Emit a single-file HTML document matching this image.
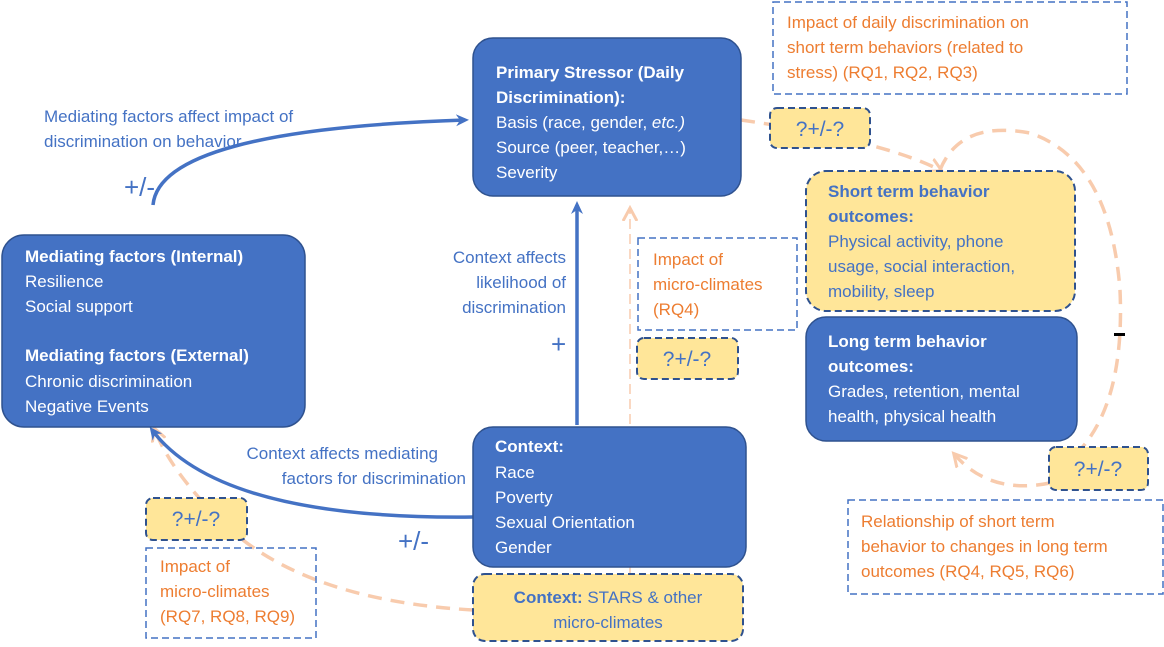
<!DOCTYPE html>
<html><head><style>body{margin:0;background:#fff}svg{display:block}text{font-family:"Liberation Sans",sans-serif;font-size:17px}.b{font-size:26px}.q{font-size:21px}</style></head><body>
<svg width="1164" height="647" viewBox="0 0 1164 647">
<defs>
<marker id="ab" markerWidth="14" markerHeight="14" refX="9" refY="7" orient="auto" markerUnits="userSpaceOnUse"><path d="M0,1 L13,7 L0,13 L4,7Z" fill="#4472C4"/></marker>
<marker id="ao" markerWidth="16" markerHeight="16" refX="11" refY="8" orient="auto" markerUnits="userSpaceOnUse"><path d="M0,1 L13,8 L0,15" fill="none" stroke="#F8CBAD" stroke-width="3"/></marker>
</defs>
<g fill="none" stroke="#F8CBAD" stroke-width="3.5" stroke-dasharray="14,9">
<path d="M630,574 L630,210" stroke-width="1.5" stroke-dasharray="10,5" marker-end="url(#ao)"/>
<path d="M741,120 Q880,140 940,170" marker-end="url(#ao)"/>
<path d="M940,170 Q960,120 1030,133 Q1110,160 1120,290 Q1125,400 1080,450"/>
<path d="M1050,483 Q990,495 955,455" marker-end="url(#ao)"/>
<path d="M473,610 Q300,600 220,520 Q170,470 155,430" marker-end="url(#ao)"/>
</g>
<g fill="none" stroke="#4472C4" stroke-width="3.5">
<path d="M577,425 L577,205" marker-end="url(#ab)"/>
<path d="M153,205 Q160,130 465,120" marker-end="url(#ab)"/>
<path d="M473,517 Q220,520 152,430" marker-end="url(#ab)"/>
</g>
<g stroke="#2F528F" stroke-width="1.5" fill="#4472C4">
<rect x="473" y="38" width="268" height="158" rx="20"/>
<rect x="2" y="235" width="303" height="192" rx="22"/>
<rect x="473" y="427" width="273" height="140" rx="20"/>
<rect x="806" y="317" width="271" height="124" rx="20"/>
</g>
<g stroke="#2F528F" stroke-width="2" stroke-dasharray="7,4" fill="#FFE699">
<rect x="473" y="574" width="270" height="67" rx="12"/>
<rect x="806" y="171" width="269" height="140" rx="20"/>
<rect x="770" y="108" width="100" height="40" rx="7"/>
<rect x="637" y="338" width="101" height="41" rx="7"/>
<rect x="1049" y="447" width="99" height="43" rx="7"/>
<rect x="146" y="498" width="101" height="42" rx="7"/>
</g>
<g stroke="#4472C4" stroke-width="1.5" stroke-dasharray="7,4" fill="none">
<rect x="773" y="2" width="354" height="92"/>
<rect x="638" y="238" width="159" height="92"/>
<rect x="146" y="548" width="170" height="90"/>
<rect x="848" y="500" width="315" height="94"/>
</g>
<g fill="#fff">
<text x="496" y="78" font-weight="bold">Primary Stressor (Daily</text>
<text x="496" y="103" font-weight="bold">Discrimination):</text>
<text x="496" y="128">Basis (race, gender, <tspan font-style="italic">etc.)</tspan></text>
<text x="496" y="153">Source (peer, teacher,…)</text>
<text x="496" y="178">Severity</text>
<text x="25" y="262" font-weight="bold">Mediating factors (Internal)</text>
<text x="25" y="287">Resilience</text>
<text x="25" y="312">Social support</text>
<text x="25" y="361" font-weight="bold">Mediating factors (External)</text>
<text x="25" y="387">Chronic discrimination</text>
<text x="25" y="412">Negative Events</text>
<text x="495" y="452" font-weight="bold">Context:</text>
<text x="495" y="478">Race</text>
<text x="495" y="503">Poverty</text>
<text x="495" y="528">Sexual Orientation</text>
<text x="495" y="553">Gender</text>
<text x="828" y="347" font-weight="bold">Long term behavior</text>
<text x="828" y="372" font-weight="bold">outcomes:</text>
<text x="828" y="397">Grades, retention, mental</text>
<text x="828" y="422">health, physical health</text>
</g>
<g fill="#4472C4">
<text x="828" y="197" font-weight="bold">Short term behavior</text>
<text x="828" y="222" font-weight="bold">outcomes:</text>
<text x="828" y="247">Physical activity, phone</text>
<text x="828" y="272">usage, social interaction,</text>
<text x="828" y="297">mobility, sleep</text>
<text x="608" y="603" text-anchor="middle"><tspan font-weight="bold">Context:</tspan> STARS &amp; other</text>
<text x="608" y="628" text-anchor="middle">micro-climates</text>
<text class="q" x="820" y="136" text-anchor="middle">?+/-?</text>
<text class="q" x="687" y="366" text-anchor="middle">?+/-?</text>
<text class="q" x="1098" y="476" text-anchor="middle">?+/-?</text>
<text class="q" x="196" y="526" text-anchor="middle">?+/-?</text>
<text x="44" y="122">Mediating factors affect impact of</text>
<text x="44" y="147">discrimination on behavior</text>
<text class="b" x="124" y="196">+/-</text>
<text x="566" y="263" text-anchor="end">Context affects</text>
<text x="566" y="288" text-anchor="end">likelihood of</text>
<text x="566" y="313" text-anchor="end">discrimination</text>
<text class="b" x="551" y="353">+</text>
<text x="438" y="459" text-anchor="end">Context affects mediating</text>
<text x="466" y="484" text-anchor="end">factors for discrimination</text>
<text class="b" x="398" y="550">+/-</text>
</g>
<rect x="1114" y="333" width="11" height="3" fill="#000"/>
<g fill="#ED7D31">
<text x="787" y="28">Impact of daily discrimination on</text>
<text x="787" y="53">short term behaviors (related to</text>
<text x="787" y="78">stress) (RQ1, RQ2, RQ3)</text>
<text x="653" y="265">Impact of</text>
<text x="653" y="290">micro-climates</text>
<text x="653" y="315">(RQ4)</text>
<text x="160" y="572">Impact of</text>
<text x="160" y="597">micro-climates</text>
<text x="160" y="622">(RQ7, RQ8, RQ9)</text>
<text x="861" y="527">Relationship of short term</text>
<text x="861" y="552">behavior to changes in long term</text>
<text x="861" y="577">outcomes (RQ4, RQ5, RQ6)</text>
</g>
</svg>
</body></html>
